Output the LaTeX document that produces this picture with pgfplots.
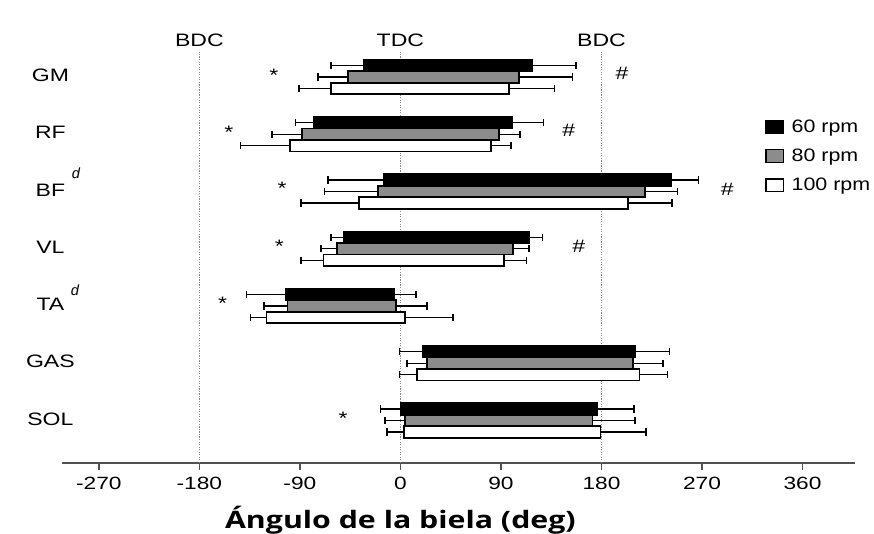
\documentclass[border=0pt]{standalone}
\usepackage{fontspec}
\setmainfont{Liberation Sans}
\newfontfamily\xlfont{Open Sans}
\usepackage{pgfplots}
\pgfplotsset{compat=1.18}
\definecolor{midgray}{HTML}{8C8C8C}
\definecolor{axgray}{HTML}{505050}
\definecolor{linegray}{HTML}{8A8A8A}
\newcommand{\W}[1]{\scalebox{1.28}[1]{#1}}
\newcommand{\WL}[1]{\scalebox{1.19}[1]{#1}}
\newcommand{\tf}{\fontsize{13.5}{16}\selectfont}
\newcommand{\dsup}[1]{\rlap{\hspace{5pt}\smash{\raisebox{#1}{\fontsize{11}{12}\selectfont\itshape d}}}}
% bar: start, end, top, bottom, fill
\newcommand{\fbar}[5]{\addplot[forget plot, draw=black, line width=1.2pt, fill=#5] coordinates {(#1,#3) (#2,#3) (#2,#4) (#1,#4)} -- cycle;}
% whisker: left cap, right cap, y
\newcommand{\wh}[3]{\addplot[forget plot, black, line width=1.1pt, mark=|, mark size=2.8pt, mark options={solid, line width=1.1pt}] coordinates {(#1,#3) (#2,#3)};}
\begin{document}
\begin{tikzpicture}
\useasboundingbox (-46.5pt,-52.5pt) rectangle (609pt,347.25pt);
\begin{axis}[
  at={(0pt,0pt)}, anchor=south west,
  scale only axis, width=594.75pt, height=317.25pt,
  xmin=-303, xmax=407, ymin=70, ymax=493,
  clip=false,
  axis x line*=bottom, axis y line=none,
  x axis line style={axgray, line width=1.5pt, -},
  xtick={-270,-180,-90,0,90,180,270,360},
  xticklabels={\W{-270},\W{-180},\W{-90},\W{0},\W{90},\W{180},\W{270},\W{360}},
  tick align=outside, major tick length=5pt,
  xtick style={axgray, line width=1.2pt},
  ytick=\empty,
  xticklabel style={font=\fontsize{13.3}{15}\selectfont, yshift=-2pt},
  legend image code/.code={\draw[#1, draw=black, line width=1pt] (0pt,-4.75pt) rectangle (13.2pt,4.75pt); \path (17pt,0pt);},
  legend cell align=left,
  legend style={at={(axis cs:326.5,416.5)}, anchor=north west, draw=none, fill=none, inner sep=0pt, row sep=7pt, font=\tf, nodes={inner sep=2pt}},
]
% reference lines
\addplot[forget plot, linegray, densely dotted, line width=0.9pt] coordinates {(-180,70) (-180,481)};
\addplot[forget plot, linegray, densely dotted, line width=0.9pt] coordinates {(0,70) (0,481)};
\addplot[forget plot, linegray, densely dotted, line width=0.9pt] coordinates {(180,70) (180,481)};
% whiskers (mean onset - SD to mean offset + SD)
% GM
\wh{-62}{157}{467.5}
\wh{-74}{154}{456}
\wh{-91}{138}{444.5}
% RF
\wh{-94}{128}{410.25}
\wh{-115}{107}{398.75}
\wh{-143}{99}{387.25}
% BF
\wh{-65}{267}{353}
\wh{-68}{248}{341.5}
\wh{-89}{243}{330}
% VL
\wh{-62}{127}{295.75}
\wh{-71}{115}{284.25}
\wh{-89}{113}{272.75}
% TA
\wh{-138}{14}{238.5}
\wh{-122}{24}{227}
\wh{-134}{47}{215.5}
% GAS
\wh{-1}{241}{181.25}
\wh{6}{235}{169.75}
\wh{-1}{239}{158.25}
% SOL
\wh{-18}{209}{124}
\wh{-14}{210}{112.5}
\wh{-12}{220}{101}
% bars
% GM
\fbar{-33}{118}{473.25}{461.75}{black}
\fbar{-47}{106}{461.75}{450.25}{midgray}
\fbar{-62}{97}{450.25}{438.75}{white}
% RF
\fbar{-78}{100}{416}{404.5}{black}
\fbar{-88}{88}{404.5}{393}{midgray}
\fbar{-99}{81}{393}{381.5}{white}
% BF
\fbar{-15}{242}{358.75}{347.25}{black}
\fbar{-20}{219}{347.25}{335.75}{midgray}
\fbar{-37}{204}{335.75}{324.25}{white}
% VL
\fbar{-51}{115}{301.5}{290}{black}
\fbar{-57}{101}{290}{278.5}{midgray}
\fbar{-69}{93}{278.5}{267}{white}
% TA
\fbar{-103}{-6}{244.25}{232.75}{black}
\fbar{-101}{-4}{232.75}{221.25}{midgray}
\fbar{-120}{4}{221.25}{209.75}{white}
% GAS
\fbar{20}{210}{187}{175.5}{black}
\fbar{24}{208}{175.5}{164}{midgray}
\fbar{15}{214}{164}{152.5}{white}
% SOL
\fbar{0}{176}{129.75}{118.25}{black}
\fbar{4}{172}{118.25}{106.75}{midgray}
\fbar{3}{179}{106.75}{95.25}{white}
% legend
\addlegendimage{fill=black}
\addlegendentry{\WL{60 rpm}}
\addlegendimage{fill=midgray}
\addlegendentry{\WL{80 rpm}}
\addlegendimage{fill=white}
\addlegendentry{\WL{100 rpm}}
% texts
\node[font=\tf] at (axis cs:-180,493) {\W{BDC}};
\node[font=\tf] at (axis cs:0,493) {\W{TDC}};
\node[font=\tf] at (axis cs:180,493) {\W{BDC}};
\node[font=\tf] at (axis cs:-313.4,457.5) {\W{GM}};
\node[font=\tf] at (axis cs:-313.4,400.25) {\W{RF}};
\node[font=\tf] at (axis cs:-313.4,343) {\W{BF}\dsup{13pt}};
\node[font=\tf] at (axis cs:-313.4,285.75) {\W{VL}};
\node[font=\tf] at (axis cs:-313.4,228.5) {\W{TA}\dsup{11.5pt}};
\node[font=\tf] at (axis cs:-313.4,171.25) {\W{GAS}};
\node[font=\tf] at (axis cs:-313.4,114) {\W{SOL}};
% significance marks
\node[font=\tf, anchor=base, inner sep=0pt] at (axis cs:-113.4,451.9) {\W{*}};
\node[font=\tf, anchor=base, inner sep=0pt] at (axis cs:-153.5,394.6) {\W{*}};
\node[font=\tf, anchor=base, inner sep=0pt] at (axis cs:-105.9,338.6) {\W{*}};
\node[font=\tf, anchor=base, inner sep=0pt] at (axis cs:-108.4,280.9) {\W{*}};
\node[font=\tf, anchor=base, inner sep=0pt] at (axis cs:-159.1,223.3) {\W{*}};
\node[font=\tf, anchor=base, inner sep=0pt] at (axis cs:-51.3,108.6) {\W{*}};
\node[font=\tf] at (axis cs:198.5,459.7) {\W{\#}};
\node[font=\tf] at (axis cs:150.7,402.3) {\W{\#}};
\node[font=\tf] at (axis cs:292.6,343.7) {\W{\#}};
\node[font=\tf] at (axis cs:159.7,287) {\W{\#}};
% x label
\node at (axis cs:0,13) {\resizebox{263pt}{\height}{\xlfont\bfseries\fontsize{18}{20}\selectfont Ángulo de la biela (deg)}};
\end{axis}
\end{tikzpicture}
\end{document}
